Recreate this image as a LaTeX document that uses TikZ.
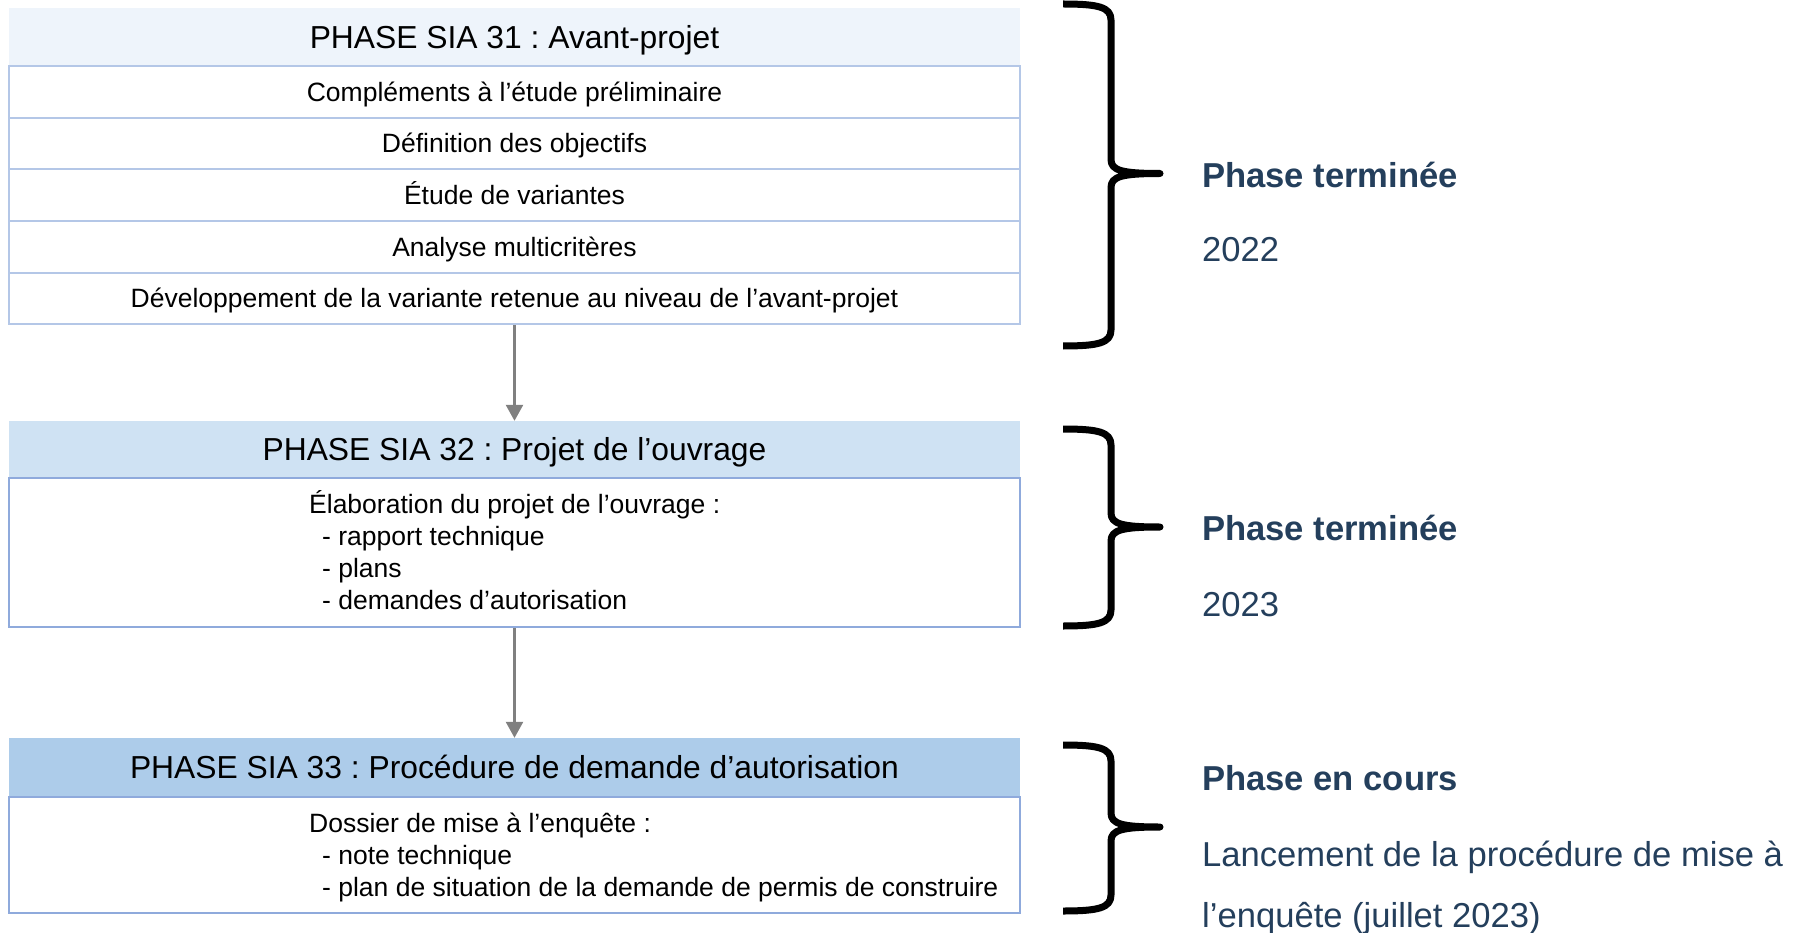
\documentclass[tikz,border=0pt]{standalone}
\usepackage{fontspec}
\setmainfont{Liberation Sans}
\usetikzlibrary{arrows.meta}
\frenchspacing
\definecolor{hOne}{HTML}{EEF4FB}
\definecolor{hTwo}{HTML}{CFE2F3}
\definecolor{hThree}{HTML}{ADCCEA}
\definecolor{rowline}{HTML}{B4C7E7}
\definecolor{boxline}{HTML}{8FAADC}
\definecolor{phasetext}{HTML}{243F5C}
\definecolor{arrowgray}{HTML}{808080}
\tikzset{
  hdr/.style={minimum width=1011pt, inner sep=0pt, draw=none,
    font=\fontsize{31.8}{38}\selectfont\frenchspacing, text height=22.8pt, text depth=0pt},
  rowbox/.style={minimum width=1011pt, minimum height=51.7pt, inner sep=0pt,
    draw=rowline, line width=2pt, fill=white,
    font=\fontsize{26.5}{32}\selectfont\frenchspacing, text height=19pt, text depth=0pt},
  bigbox/.style={minimum width=1011pt, inner sep=0pt, draw=boxline, line width=2pt},
  itemtext/.style={anchor=base west, inner sep=0pt, font=\fontsize{26.5}{32}\selectfont\frenchspacing},
  phasehead/.style={anchor=base west, inner sep=0pt, text=phasetext,
    font=\fontsize{34.6}{42}\selectfont\bfseries},
  phasenote/.style={anchor=base west, inner sep=0pt, text=phasetext,
    font=\fontsize{34.6}{42}\selectfont},
  flowarrow/.style={draw=arrowgray, line width=2.5pt,
    -{Triangle[width=17pt,length=16pt]}},
  bracestyle/.style={draw=black, line width=7pt, line join=round, line cap=butt}
}
\newcommand\phasebrace[3]{%
  \draw[bracestyle] (1063,#1) .. controls (1098,#1) and (1111,#1+3) .. (1111,#1+16)
    -- (1111,#2-14) .. controls (1111,#2-3) and (1122,#2) .. (1160,#2)
    .. controls (1122,#2) and (1111,#2+3) .. (1111,#2+14)
    -- (1111,#3-16) .. controls (1111,#3-3) and (1098,#3) .. (1063,#3);
}
\begin{document}
\begin{tikzpicture}[x=1pt,y=-1pt]
\useasboundingbox (0,0) rectangle (1802,933);
\fill[white] (0,0) rectangle (1802,933);

% Phase 31
\node[hdr, fill=hOne, minimum height=58pt] (h1) at (514.5,37) {PHASE SIA 31 : Avant-projet};
\node[rowbox] (r1) at (514.5,91.8) {Compléments à l’étude préliminaire};
\node[rowbox] (r2) at (514.5,143.5) {Définition des objectifs};
\node[rowbox] (r3) at (514.5,195.2) {Étude de variantes};
\node[rowbox] (r4) at (514.5,246.8) {Analyse multicritères};
\node[rowbox] (r5) at (514.5,298.5) {Développement de la variante retenue au niveau de l’avant-projet};

% Phase 32
\node[hdr, fill=hTwo, minimum height=57pt] (h2) at (514.5,449.5) {PHASE SIA 32 : Projet de l’ouvrage};
\node[bigbox, minimum height=149pt] (b2) at (514.5,552.5) {};
\node[itemtext] (b2a) at (309,513) {Élaboration du projet de l’ouvrage :};
\node[itemtext] (b2b) at (322,545) {- rapport technique};
\node[itemtext] (b2c) at (322,577) {- plans};
\node[itemtext] (b2d) at (322,609) {- demandes d’autorisation};

% Phase 33
\node[hdr, fill=hThree, minimum height=59pt] (h3) at (514.5,767.5) {PHASE SIA 33 : Procédure de demande d’autorisation};
\node[bigbox, minimum height=116pt] (b3) at (514.5,855) {};
\node[itemtext] (b3a) at (309,832) {Dossier de mise à l’enquête :};
\node[itemtext] (b3b) at (322,864) {- note technique};
\node[itemtext] (b3c) at (322,896) {- plan de situation de la demande de permis de construire};

% arrows
\draw[flowarrow] (r5.south) -- (h2.north);
\draw[flowarrow] (b2.south) -- (h3.north);

% braces
\phasebrace{4}{173.5}{346}
\phasebrace{429}{527}{626}
\phasebrace{745}{827}{911}

% right texts
\node[phasehead] (p1) at (1202,187.5) {Phase terminée};
\node[phasenote] (y1) at (1202,262) {2022};
\node[phasehead] (p2) at (1202,540) {Phase terminée};
\node[phasenote] (y2) at (1202,616) {2023};
\node[phasehead] (p3) at (1202,790) {Phase en cours};
\node[phasenote] (l1) at (1202,866) {Lancement de la procédure de mise à};
\node[phasenote] (l2) at (1202,927) {l’enquête (juillet 2023)};
\end{tikzpicture}
\end{document}
